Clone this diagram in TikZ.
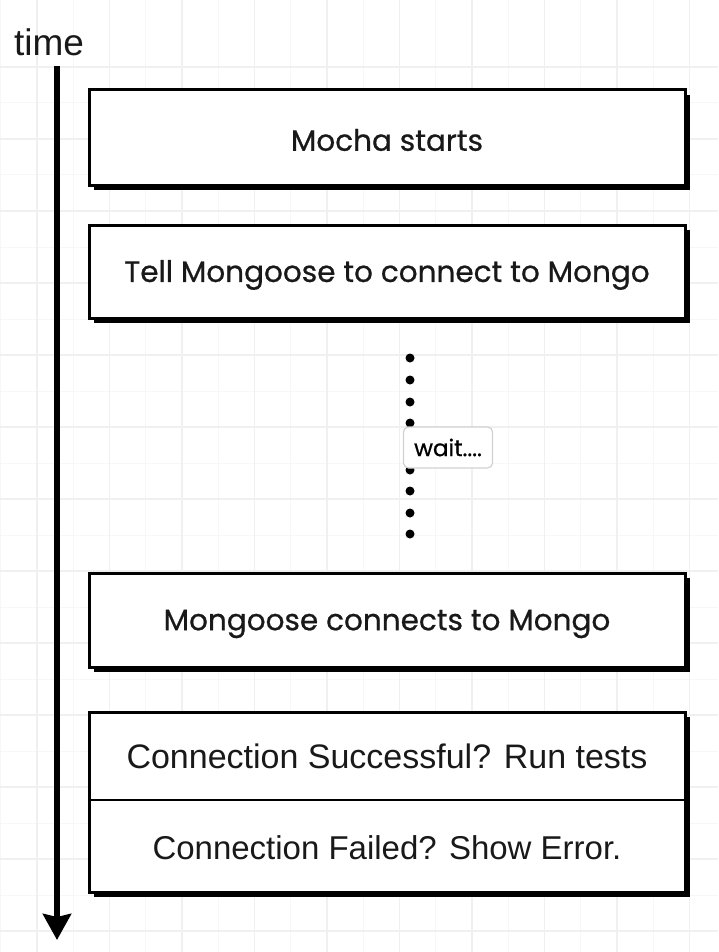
\documentclass[tikz,border=0pt]{standalone}
\usepackage{fontspec}
\setmainfont{Liberation Sans}
\newfontfamily\roundfont[FakeBold=0.7]{Poppins}
\newfontfamily\arialfont{Liberation Sans}
\usetikzlibrary{arrows.meta}
\tikzset{
  gridmajor/.style={draw=black!6, line width=1.2pt},
  gridminor/.style={draw=black!3, line width=1pt},
  shadowbox/.style={fill=black, draw=none},
  stepbox/.style={draw=black, fill=white, line width=3pt},
  boxtext/.style={font=\roundfont\fontsize{29.5}{32}\selectfont, text=black!90},
  arialtext/.style={font=\arialfont\fontsize{34}{37}\selectfont, text=black!90},
  waitdot/.style={circle, fill=black, inner sep=0pt, minimum size=9pt},
  waitlabel/.style={draw=black!18, fill=white, rounded corners=5pt, line width=1.2pt,
    minimum width=89pt, minimum height=41pt, inner sep=0pt,
    font=\roundfont\fontsize{23}{25}\selectfont},
  timearrow/.style={line width=6pt, -{Stealth[width=28pt,length=26pt,inset=3pt]}},
}
\begin{document}
\begin{tikzpicture}[x=1pt,y=-1pt]
\useasboundingbox (0,0) rectangle (718,952);
\fill[white] (0,0) rectangle (718,952);
% grid
\foreach \i in {0,...,9} {
  \draw[gridminor] ({37+72.5*\i+36.25},0) -- ({37+72.5*\i+36.25},952);
  \draw[gridminor] ({37+72.5*\i-36.25},0) -- ({37+72.5*\i-36.25},952);
}
\foreach \j in {-4,...,8} {
  \draw[gridminor] (0,{355+72*\j+36}) -- (718,{355+72*\j+36});
}
\foreach \i in {0,...,9} {
  \draw[gridmajor] ({37+72.5*\i},0) -- ({37+72.5*\i},952);
}
\foreach \j in {-4,...,8} {
  \draw[gridmajor] (0,{355+72*\j}) -- (718,{355+72*\j});
}
% time axis
\node[anchor=center, font=\arialfont\fontsize{37}{40}\selectfont, text=black!90] (timelbl) at (49,42) {time};
\coordinate (tstart) at (57,66);
\coordinate (tend) at (57,940);
\draw[timearrow] (tstart) -- (tend);
% boxes
\fill[shadowbox] (94,95) rectangle (690,190);
\draw[stepbox] (89,90) rectangle (685,185);
\node[boxtext] (b1) at (387,140) {Mocha starts};
\fill[shadowbox] (94,230) rectangle (690,323);
\draw[stepbox] (89,225) rectangle (685,318);
\node[boxtext] (b2) at (387,275) {Tell Mongoose to connect to Mongo};
\fill[shadowbox] (94,578) rectangle (690,672);
\draw[stepbox] (89,573) rectangle (685,667);
\node[boxtext] (b3) at (387,624) {Mongoose connects to Mongo};
\fill[shadowbox] (94,717) rectangle (690,897);
\draw[stepbox] (89,712) rectangle (685,892);
\draw[line width=2.5pt] (89,800) -- (685,800);
\node[arialtext] (b4a) at (387,756) {Connection Successful? Run tests};
\node[arialtext, font=\arialfont\fontsize{33}{36}\selectfont] (b4b) at (387,848) {Connection Failed? Show Error.};
% wait dots
\foreach \y [count=\k] in {358,380,402,423,447,470,491,513,534} {
  \node[waitdot] (d\k) at (410,\y) {};
}
\node[waitlabel] (wait) at (448,447.5) {wait....};
\end{tikzpicture}
\end{document}
